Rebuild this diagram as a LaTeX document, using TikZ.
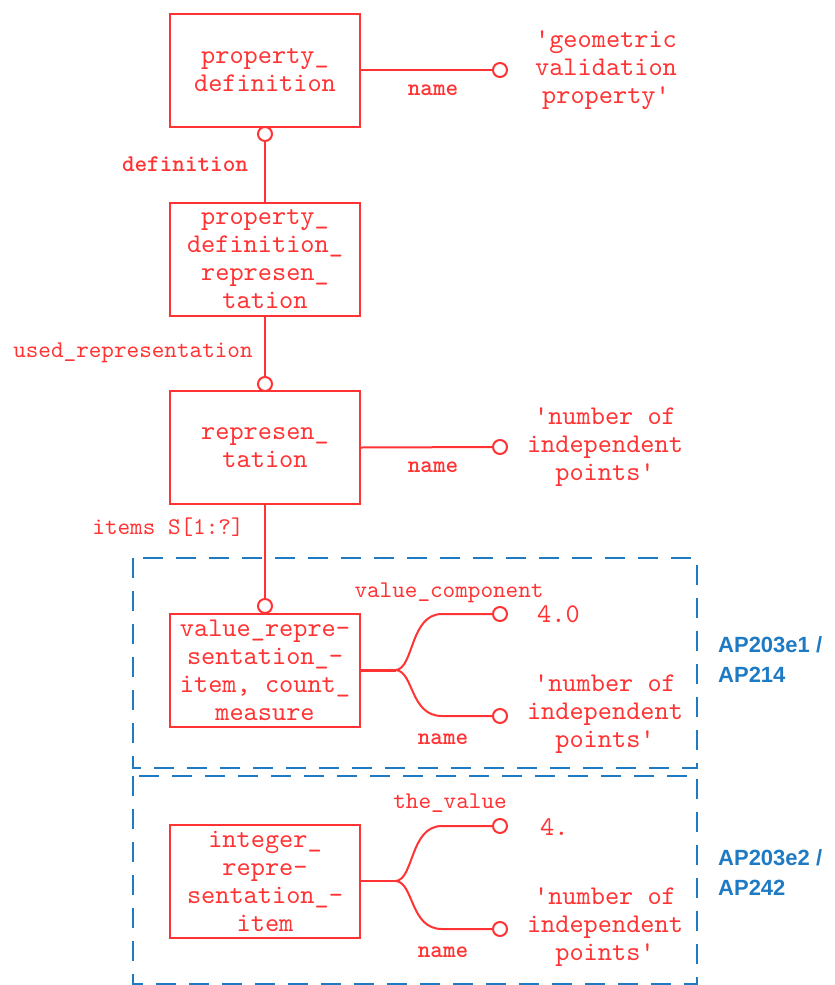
\documentclass[tikz,border=0pt]{standalone}
\usepackage{fontspec}
\setmonofont{lmmono10-regular.otf}[BoldFont=lmmonolt10-bold.otf]
\newfontfamily\apfont{Liberation Sans}
\definecolor{er}{HTML}{FF3333}
\definecolor{ap}{HTML}{1F7AC4}
\begin{document}
\begin{tikzpicture}[x=1pt,y=-1pt,
 ent/.style={draw=er, line width=2pt, minimum width=190pt, minimum height=113pt, inner sep=0pt, align=center, text=er, font=\ttfamily\fontsize{27}{28}\selectfont},
 val/.style={text=er, font=\ttfamily\fontsize{27}{28}\selectfont, align=center, inner sep=0pt},
 lbl/.style={text=er, font=\ttfamily\fontsize{24}{26}\selectfont, inner sep=0pt},
 lblb/.style={text=er, font=\ttfamily\bfseries\fontsize{24}{26}\selectfont, inner sep=0pt},
 oc/.style={circle, draw=er, fill=white, line width=2pt, minimum size=14pt, inner sep=0pt},
 rel/.style={draw=er, line width=2pt},
 grp/.style={draw=ap, line width=2.5pt, dash pattern=on 20pt off 13pt},
 aplbl/.style={text=ap, font=\apfont\bfseries\fontsize{22}{30}\selectfont, align=left, inner sep=0pt}
]
\useasboundingbox (0,0) rectangle (835,985);

% group frames
\draw[grp] (133,558) rectangle (697,768);
\draw[grp] (133,776) rectangle (697,984);

% entities
\node[ent] (b1) at (265,70) {property\_\\definition};
\node[ent] (b2) at (265,259.5) {property\_\\definition\_\\represen\_\\tation};
\node[ent] (b3) at (265,447.5) {represen\_\\tation};
\node[ent] (b4) at (265,670) {value\_repre-\\sentation\_-\\item, count\_\\measure};
\node[ent] (b5) at (265,881) {integer\_\\repre-\\sentation\_-\\item};

% connection points
\coordinate (j4) at (396,670);
\coordinate (t4) at (442,614);
\coordinate (u4) at (442,716);
\coordinate (j5) at (396,881);
\coordinate (t5) at (442,826);
\coordinate (u5) at (442,929);

% circles
\node[oc] (c1) at (265,134) {};
\node[oc] (n1) at (500,70) {};
\node[oc] (c3) at (265,384) {};
\node[oc] (n3) at (500,447) {};
\node[oc] (c4) at (265,606) {};
\node[oc] (v4) at (500,614) {};
\node[oc] (m4) at (500,716) {};
\node[oc] (v5) at (500,826) {};
\node[oc] (m5) at (500,929) {};

% connectors
\draw[rel] (b1.east) -- (n1);
\draw[rel] (c1) -- (b2.north);
\draw[rel] (b2.south) -- (c3);
\draw[rel] (b3.east) -- (n3);
\draw[rel] (b3.south) -- (c4);
\draw[rel, line width=3pt] (b4.east) -- (j4);
\draw[rel] (j4) .. controls (414,668) and (410,614) .. (t4) -- (v4);
\draw[rel] (j4) .. controls (414,672) and (410,716) .. (u4) -- (m4);
\draw[rel] (b5.east) -- (j5);
\draw[rel] (j5) .. controls (414,879) and (410,826) .. (t5) -- (v5);
\draw[rel] (j5) .. controls (414,883) and (410,929) .. (u5) -- (m5);

% role labels
\node[lblb] (lname1) at (433,90) {name};
\node[lblb] (ldef) at (185,164) {definition};
\node[lbl] (lused) at (133,353) {used\_representation};
\node[lbl] (litems) at (168,527) {items S[1:?]};
\node[lblb] (lname3) at (433,467) {name};
\node[lbl] (lvc) at (449,593) {value\_component};
\node[lblb] (lname4) at (443,739) {name};
\node[lbl] (ltv) at (450,803) {the\_value};
\node[lblb] (lname5) at (443,952) {name};

% values
\node[val] (t1) at (606,70) {'geometric\\validation\\property'};
\node[val] (t3) at (605,447) {'number of\\independent\\points'};
\node[val, anchor=west] (t4a) at (537,614) {4.0};
\node[val] (t4b) at (605,714) {'number of\\independent\\points'};
\node[val, anchor=west] (t5a) at (540,827) {4.};
\node[val] (t5b) at (605,927) {'number of\\independent\\points'};

% AP labels
\node[aplbl, anchor=west] (ap1) at (718,660) {AP203e1 /\\AP214};
\node[aplbl, anchor=west] (ap2) at (718,873) {AP203e2 /\\AP242};
\end{tikzpicture}
\end{document}
